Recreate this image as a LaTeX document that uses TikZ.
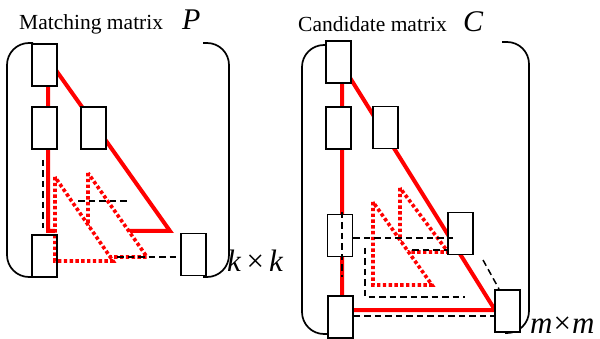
\documentclass[tikz,border=0pt]{standalone}
\usepackage{fontspec}
\setmainfont{Liberation Serif}
\begin{document}
\begin{tikzpicture}[x=1pt,y=-1pt,
  cell/.style={draw=black,fill=white,line width=1.8pt,minimum width=25pt,minimum height=42pt,inner sep=0pt},
  cellopen/.style={draw=black,line width=1.8pt,minimum width=25pt,minimum height=42pt,inner sep=0pt},
  redsolid/.style={draw=red,line width=4pt,line join=miter},
  reddot/.style={draw=red,fill=white,line width=3.6pt,dash pattern=on 3.4pt off 2.4pt},
  blackdash/.style={draw=black,line width=1.5pt,dash pattern=on 6.5pt off 4pt},
  brack/.style={draw=black,line width=1.7pt,rounded corners=22pt},
  title/.style={anchor=base west,inner sep=0pt,font=\fontsize{21.5}{24}\selectfont},
  sym/.style={anchor=base west,inner sep=0pt,font=\fontsize{30}{34}\selectfont\itshape},
  dim/.style={anchor=base west,inner sep=0pt,font=\fontsize{31}{34}\selectfont}]
\useasboundingbox (0,0) rectangle (600,339);

% ---------- left panel ----------
\node[title] (tl) at (19,30) {Matching matrix};
\node[sym] (symP) at (182,30) {P};
\draw[brack] (33,43) -- (7,43) -- (7,277) -- (33,277);
\draw[brack] (203,43) -- (229,43) -- (229,277) -- (203,277);

\draw[redsolid] (48,59) -- (48,231) -- (170,231) -- cycle;
\draw[reddot] (88,173) -- (88,257) -- (147,257) -- cycle;
\draw[reddot] (55,177) -- (55,261) -- (113,261) -- cycle;

\node[cell] (lA) at (44.5,65) {};
\node[cell] (lB) at (44.5,128) {};
\node[cell] (lC) at (93.5,128) {};
\node[cellopen] (lD) at (44.5,256) {};
\node[cell] (lE) at (193.5,254.5) {};

\draw[blackdash] (43,160) -- (43,228);
\draw[blackdash] (78,201) -- (130,201);
\draw[blackdash] (117,257) -- (lE.west |- 0,257);

\node[dim] (kk) at (227,272) {\textit{k}\,×\,\textit{k}};

% ---------- right panel ----------
\node[title] (tr) at (298,32) {Candidate matrix};
\node[sym] (symC) at (463,32) {C};
\draw[brack] (326,45) -- (302,45) -- (302,334) -- (327,334);
\draw[brack] (502,42) -- (529,42) -- (529,333) -- (505,333);

\draw[redsolid] (342,65) -- (342,310) -- (495,310) -- cycle;
\draw[reddot] (400,188) -- (400,252) -- (448,252) -- cycle;
\draw[reddot] (373,202) -- (373,285) -- (432,285) -- cycle;

\node[cell] (rA) at (338.5,62) {};
\node[cell] (rB) at (338.5,128) {};
\node[cell] (rC) at (385.5,127.5) {};
\node[cell] (rD) at (340,235.5) {};
\node[cell] (rE) at (460.5,233.5) {};
\node[cell] (rF) at (340.5,317) {};
\node[cell] (rG) at (507.5,311) {};

\draw[blackdash] (342,212) -- (342,277);
\draw[blackdash] (rD.east |- 0,238) -- (453,238);
\draw[blackdash] (412,250) -- (rE.west |- 0,250);
\draw[blackdash] (365,248) -- (365,297) -- (465,297);
\draw[blackdash] (rF.east |- 0,316) -- (rG.west |- 0,316);
\draw[blackdash] (483,260) -- (499,289);

\node[dim] (mm) at (530,333) {\textit{m}\hspace{1pt}×\hspace{1pt}\textit{m}};
\end{tikzpicture}
\end{document}
